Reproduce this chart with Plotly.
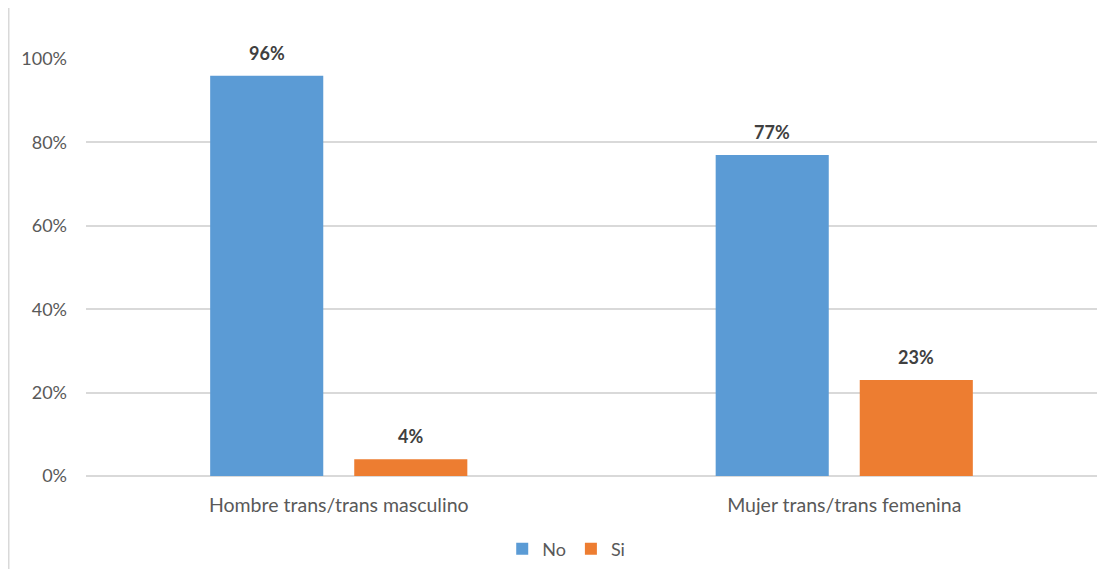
import plotly.graph_objects as go

categories = ["Hombre trans/trans masculino", "Mujer trans/trans femenina"]
no_values = [0.96, 0.77]
si_values = [0.04, 0.23]
tick_vals = [0, 0.2, 0.4, 0.6, 0.8, 1.0]
tick_text = ["0%", "20%", "40%", "60%", "80%", "100%"]

FONT = "Lato"
# page body adds an 8px offset; figure sized to fit window
W, H = 1106, 561
L, R, T, B = 78, 17, 51, 93
plot_w = W - L - R
plot_h = H - T - B

fig = go.Figure()
fig.add_trace(go.Bar(
    name="No", x=categories, y=no_values,
    marker=dict(color="#5B9BD5", line=dict(width=0)),
))
fig.add_trace(go.Bar(
    name="Si", x=categories, y=si_values,
    marker=dict(color="#ED7D31", line=dict(width=0)),
))

bargap, bargroupgap = 0.43, 0.215
cat_px = plot_w / len(categories)
slot = cat_px * (1 - bargap) / 2
annotations = []
for vals, sign in ((no_values, -1), (si_values, 1)):
    for c, v in zip(categories, vals):
        annotations.append(dict(
            x=c, y=v, xref="x", yref="y", text=f"{round(v*100)}%",
            showarrow=False, xshift=sign * slot / 2, yshift=23,
            yanchor="middle", xanchor="center",
            font=dict(family=FONT, size=18, color="#404040", weight="bold"),
        ))

fig.update_layout(
    width=W, height=H,
    margin=dict(l=L, r=R, t=T, b=B, autoexpand=False),
    paper_bgcolor="white", plot_bgcolor="white",
    barmode="group", bargap=bargap, bargroupgap=bargroupgap,
    font=dict(family=FONT, size=18, color="#595959"),
    showlegend=True,
    legend=dict(orientation="h", x=0.475, xanchor="center", y=-73 / plot_h, yanchor="middle",
                font=dict(family=FONT, size=18, color="#595959"),
                itemwidth=30, traceorder="normal"),
    xaxis=dict(showgrid=False, showline=False, ticks="", ticklabelstandoff=15,
               tickfont=dict(family=FONT, size=19.5, color="#595959")),
    yaxis=dict(range=[0, 1], tickvals=tick_vals, ticktext=tick_text,
               showgrid=True, gridcolor="#D9D9D9", gridwidth=1.5,
               zeroline=True, zerolinecolor="#D9D9D9", zerolinewidth=1.5,
               showline=False, ticks="", ticklabelstandoff=18,
               tickfont=dict(family=FONT, size=18, color="#595959")),
    annotations=annotations,
    shapes=[dict(type="line", xref="paper", yref="paper",
                 x0=(0.75 - L) / plot_w, x1=(0.75 - L) / plot_w,
                 y0=-B / plot_h, y1=1 + T / plot_h,
                 line=dict(color="#D9D9D9", width=1.5))],
)

fig.write_html("out.html")
